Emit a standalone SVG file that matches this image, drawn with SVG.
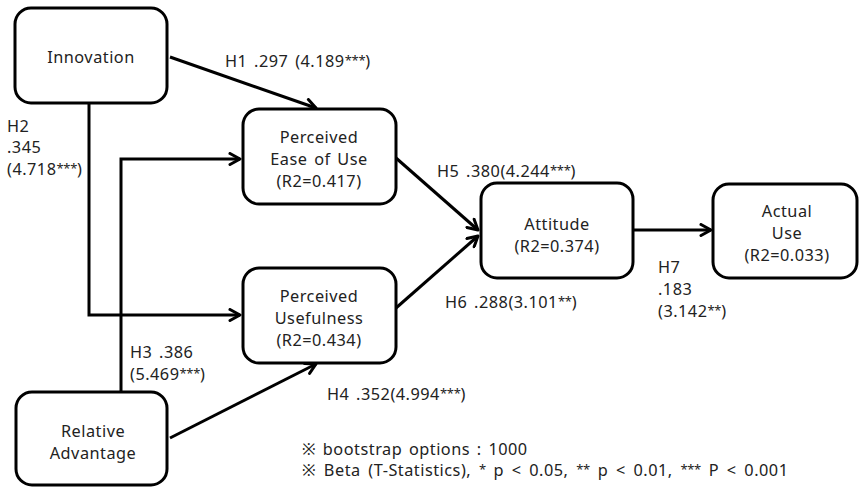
<svg xmlns="http://www.w3.org/2000/svg" width="861" height="489" viewBox="0 0 861 489">
<style>
.box{fill:#fff;stroke:#000;stroke-width:3}
.t{font-family:"Noto Sans","Liberation Sans",sans-serif;font-size:16.3px;letter-spacing:0.5px;word-spacing:2px;fill:#222}
.c{text-anchor:middle}
.s{font-size:13px;letter-spacing:-0.3px;baseline-shift:2.5px}
.n{word-spacing:3px}
.ln{fill:none;stroke:#000;stroke-width:3;marker-end:url(#ah)}
</style>
<defs>
<marker id="ah" viewBox="0 0 14 14" refX="12" refY="7" markerWidth="14" markerHeight="14" markerUnits="userSpaceOnUse" orient="auto">
<path d="M2,1.5 L12,7 L2,12.5" fill="none" stroke="#000" stroke-width="3" stroke-linejoin="round" stroke-linecap="round"/>
</marker>
</defs>
<rect width="861" height="489" fill="#fff"/>
<g id="connectors">
<path class="ln" d="M170,57 L316,108"/>
<path class="ln" d="M89,103 V315 H240"/>
<path class="ln" d="M121,392 V159 H240"/>
<path class="ln" d="M396,158 L478,230"/>
<path class="ln" d="M396,308 L478,236"/>
<path class="ln" d="M170,438 L316,364"/>
<path class="ln" d="M633,230 H711"/>
</g>
<g id="innovation">
<rect class="box" x="15" y="8" width="152" height="95" rx="16"/>
<text class="t c" x="91" y="63">Innovation</text>
</g>
<g id="peou">
<rect class="box" x="243" y="109" width="153" height="95" rx="16"/>
<text class="t c" x="319" y="143">Perceived</text>
<text class="t c" x="319" y="165">Ease of Use</text>
<text class="t c" x="319" y="187">(R2=0.417)</text>
</g>
<g id="pu">
<rect class="box" x="243" y="268" width="153" height="95" rx="16"/>
<text class="t c" x="319" y="302">Perceived</text>
<text class="t c" x="319" y="324">Usefulness</text>
<text class="t c" x="319" y="346">(R2=0.434)</text>
</g>
<g id="ra">
<rect class="box" x="16" y="392" width="151" height="93" rx="16"/>
<text class="t c" x="93" y="437">Relative</text>
<text class="t c" x="93" y="459">Advantage</text>
</g>
<g id="attitude">
<rect class="box" x="481" y="183" width="152" height="95" rx="16"/>
<text class="t c" x="557" y="230">Attitude</text>
<text class="t c" x="557" y="252">(R2=0.374)</text>
</g>
<g id="actualuse">
<rect class="box" x="713" y="184" width="144" height="94" rx="16"/>
<text class="t c" x="787" y="217">Actual</text>
<text class="t c" x="787" y="239">Use</text>
<text class="t c" x="787" y="261">(R2=0.033)</text>
</g>
<g id="labels">
<text class="t" x="225" y="67">H1 .297 (4.189<tspan class="s">***</tspan>)</text>
<text class="t" x="7" y="132">H2</text>
<text class="t" x="7" y="153">.345</text>
<text class="t" x="7" y="175">(4.718<tspan class="s">***</tspan>)</text>
<text class="t" x="130" y="358">H3 .386</text>
<text class="t" x="130" y="380">(5.469<tspan class="s">***</tspan>)</text>
<text class="t" x="327" y="400">H4 .352(4.994<tspan class="s">***</tspan>)</text>
<text class="t" x="437" y="177">H5 .380(4.244<tspan class="s">***</tspan>)</text>
<text class="t" x="445" y="308">H6 .288(3.101<tspan class="s">**</tspan>)</text>
<text class="t" x="658" y="273">H7</text>
<text class="t" x="658" y="295">.183</text>
<text class="t" x="658" y="317">(3.142<tspan class="s">**</tspan>)</text>
<text class="t" x="302" y="455">※ bootstrap options : 1000</text>
<text class="t n" x="302" y="476">※ Beta (T-Statistics), <tspan class="s">*</tspan> p &lt; 0.05, <tspan class="s">**</tspan> p &lt; 0.01, <tspan class="s">***</tspan> P &lt; 0.001</text>
</g>
</svg>
